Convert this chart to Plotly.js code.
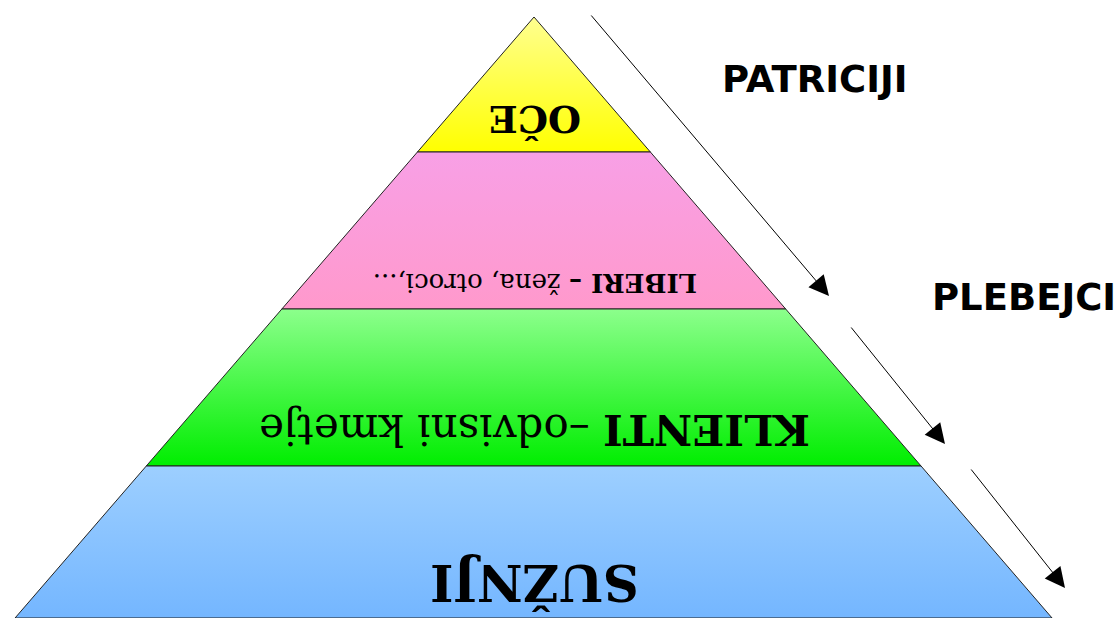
<!DOCTYPE html>
<html>
<head>
<meta charset="utf-8">
<script src="https://cdn.plot.ly/plotly-3.0.1.min.js"></script>
<style>html,body{margin:0;padding:0;background:#fff;}#chart{width:1119px;height:618px;}</style>
</head>
<body>
<div id="chart"></div>
<script>
// Pyramid tiers (top to bottom)
var tierLabels = ['<b>OČE</b>', '<b>LIBERI –</b> žena, otroci,...', '<b>KLIENTI</b> –odvisni kmetje', '<b>SUŽNJI</b>'];
var tierTop = [17, 152, 309, 466];
var tierBottom = [152, 309, 466, 618];
var tierLabelY = [120, 283, 430, 583];
var tierFontSize = [38, 26, 42, 50];
var tierColorTop = ['#ffff90', '#f8a0e6', '#8cff8c', '#9dcfff'];
var tierColorBottom = ['#ffff00', '#ff99cc', '#00ee00', '#74b6ff'];

// Social groups (side labels) and arrows
var groupLabels = ['PATRICIJI', 'PLEBEJCI'];
var groupX = [814, 1024];
var groupY = [79, 297];
var arrowStartX = [590, 850, 970];
var arrowStartY = [14, 326, 468];
var arrowEndX = [829, 945, 1065];
var arrowEndY = [296, 444, 588];

var apexX = 534, apexY = 17, slopeL = 0.8635, slopeR = 0.862;
function leftX(y) { return apexX - slopeL * (y - apexY); }
function rightX(y) { return apexX + slopeR * (y - apexY); }

var traces = [];
for (var i = 0; i < tierLabels.length; i++) {
  var t = tierTop[i], b = tierBottom[i];
  var xs, ys;
  if (i === 0) {
    xs = [apexX, rightX(b), leftX(b), apexX];
    ys = [t, b, b, t];
  } else {
    xs = [leftX(t), rightX(t), rightX(b), leftX(b), leftX(t)];
    ys = [t, t, b, b, t];
  }
  traces.push({
    type: 'scatter', mode: 'lines', x: xs, y: ys, fill: 'toself',
    fillgradient: {type: 'vertical', colorscale: [[0, tierColorBottom[i]], [1, tierColorTop[i]]]},
    line: {color: '#222', width: 1}, hoverinfo: 'skip', showlegend: false
  });
}

var annotations = [];
for (var i = 0; i < tierLabels.length; i++) {
  annotations.push({
    x: 535, y: tierLabelY[i], xref: 'x', yref: 'y', text: tierLabels[i], showarrow: false,
    textangle: 180, font: {family: 'DejaVu Serif', size: tierFontSize[i], color: '#000'},
    xanchor: 'center', yanchor: 'middle'
  });
}
for (var g = 0; g < groupLabels.length; g++) {
  annotations.push({
    x: groupX[g], y: groupY[g], xref: 'x', yref: 'y', text: '<b>' + groupLabels[g] + '</b>', showarrow: false,
    font: {family: 'DejaVu Sans', size: 37, color: '#000'}, xanchor: 'center', yanchor: 'middle'
  });
}
for (var a = 0; a < arrowStartX.length; a++) {
  annotations.push({
    x: arrowEndX[a], y: arrowEndY[a], ax: arrowStartX[a], ay: arrowStartY[a],
    xref: 'x', yref: 'y', axref: 'x', ayref: 'y', text: '', showarrow: true,
    arrowhead: 2, arrowsize: 4, arrowwidth: 1, arrowcolor: '#000'
  });
}

var layout = {
  width: 1119, height: 618, margin: {l: 0, r: 0, t: 0, b: 0},
  paper_bgcolor: '#fff', plot_bgcolor: '#fff',
  xaxis: {range: [0, 1119], visible: false, fixedrange: true},
  yaxis: {range: [618, 0], visible: false, fixedrange: true},
  annotations: annotations, showlegend: false
};
Plotly.newPlot('chart', traces, layout, {staticPlot: true});
</script>
</body>
</html>
